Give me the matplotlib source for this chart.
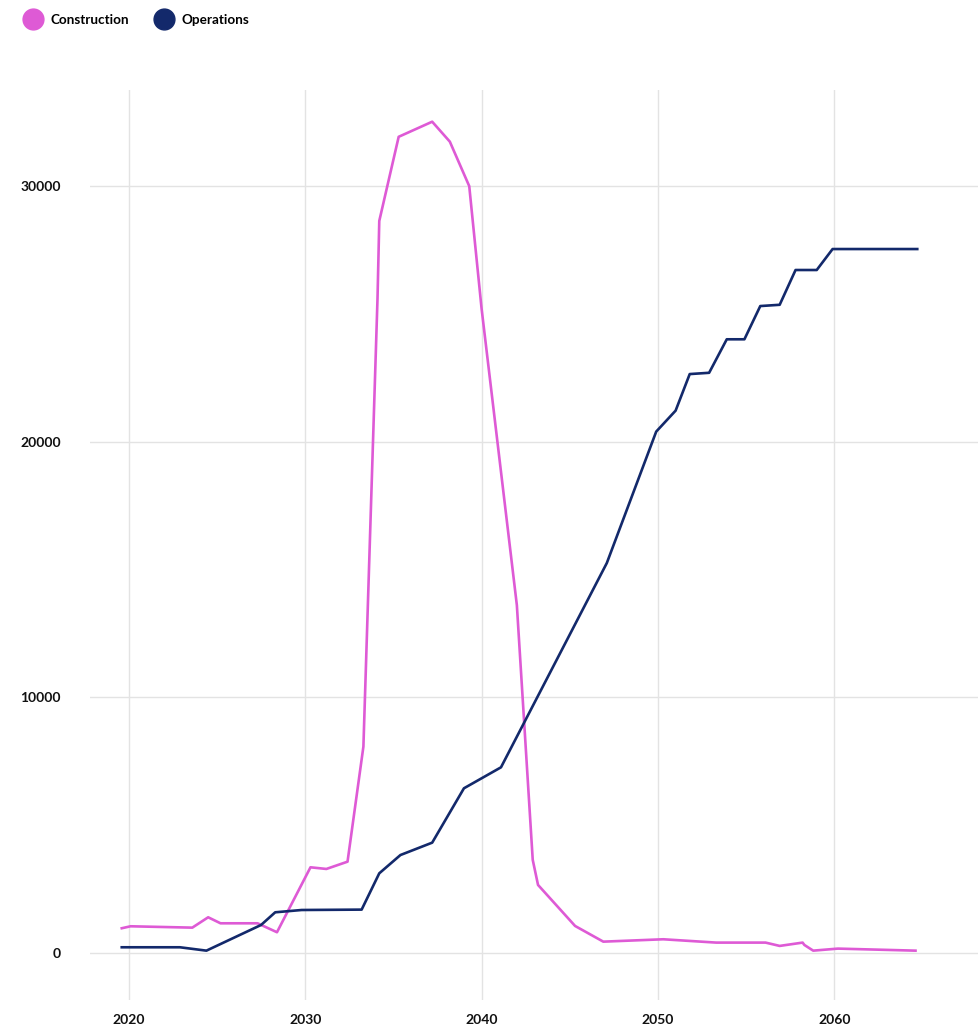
import numpy as np
import matplotlib.pyplot as plt
from matplotlib.lines import Line2D

# Construction workforce
construction_years = [2019.6, 2020.1, 2023.6, 2024.5, 2025.2, 2027.3, 2028.4, 2030.3,
                      2031.2, 2032.4, 2033.3, 2034.1, 2034.2, 2035.3, 2037.2, 2038.2,
                      2039.3, 2040.0, 2042.0, 2042.9, 2043.2, 2045.3, 2046.9, 2050.3,
                      2053.3, 2056.1, 2056.9, 2058.2, 2058.3, 2058.8, 2060.2, 2064.6]
construction_values = [966, 1043, 990, 1395, 1160, 1160, 810, 3350,
                       3285, 3570, 8070, 25600, 28630, 31920, 32510, 31730,
                       29990, 25200, 13600, 3640, 2660, 1056, 442, 535,
                       405, 405, 275, 405, 313, 90, 170, 90]

# Operations workforce
operations_years = [2019.6, 2022.9, 2024.4, 2027.5, 2028.3, 2029.8, 2033.2, 2034.2,
                    2035.4, 2037.2, 2039.0, 2041.1, 2047.1, 2049.9, 2051.0, 2051.8,
                    2052.9, 2053.9, 2054.9, 2055.8, 2056.9, 2057.8, 2059.0, 2059.9,
                    2064.7]
operations_values = [222, 222, 90, 1095, 1590, 1680, 1695, 3115,
                     3830, 4314, 6440, 7260, 15250, 20390, 21210, 22640,
                     22690, 24000, 24000, 25300, 25350, 26710, 26710, 27530,
                     27530]

x_ticks = [2020, 2030, 2040, 2050, 2060]
y_ticks = [0, 10000, 20000, 30000]

pink = "#de5ad5"
navy = "#13296b"

plt.rcParams["font.family"] = ["Lato", "DejaVu Sans"]

fig = plt.figure(figsize=(9.79, 10.27), dpi=100)
ax = fig.add_axes([90 / 979, 1 - 1000 / 1027, 889 / 979, 910 / 1027])

ax.plot(construction_years, construction_values, color=pink, lw=1.9, zorder=3)
ax.plot(operations_years, operations_values, color=navy, lw=1.9, zorder=3)

ax.set_xlim(2017.8, 2068.2)
ax.set_ylim(-1840, 33750)
ax.set_xticks(x_ticks)
ax.set_yticks(y_ticks)
ax.set_xticklabels([str(t) for t in x_ticks], fontsize=10, fontweight="bold", color="#111111")
ax.set_yticklabels([str(t) for t in y_ticks], fontsize=10, fontweight="bold", color="#111111")
ax.tick_params(axis="both", length=0)
ax.tick_params(axis="y", pad=21)
ax.tick_params(axis="x", pad=10)
ax.grid(True, color="#e3e3e3", lw=1.0, zorder=0)
for s in ax.spines.values():
    s.set_visible(False)

handles = [
    Line2D([], [], marker="o", color="none", markerfacecolor=pink, markeredgecolor=pink, markersize=15),
    Line2D([], [], marker="o", color="none", markerfacecolor=navy, markeredgecolor=navy, markersize=15),
]
leg = fig.legend(handles, ["Construction", "Operations"], loc="center left",
                 bbox_to_anchor=(0.024, 1 - 20 / 1027), ncol=2, frameon=False,
                 handletextpad=0.6, columnspacing=1.9, handlelength=1.4,
                 borderaxespad=0, borderpad=0,
                 prop={"size": 9.7, "weight": "bold"})

fig.savefig("out.png", dpi=100)
